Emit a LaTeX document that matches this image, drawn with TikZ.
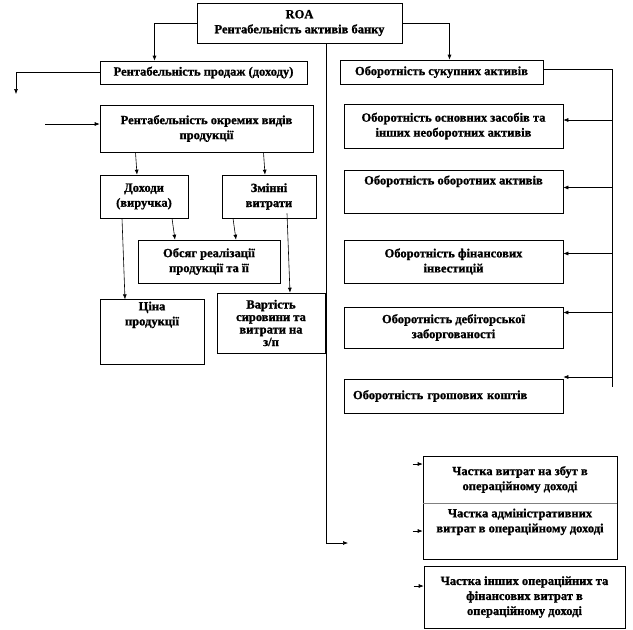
\documentclass[tikz,border=0pt]{standalone}
\usepackage{fontspec}
\setmainfont{Liberation Serif}[BoldFeatures={FakeBold=1.2}]
\usepackage{tikz}
\usetikzlibrary{arrows.meta,positioning,calc}

\begin{document}
\begin{tikzpicture}[
  x=1pt,y=-1pt,
  >={Latex[length=5pt,width=4pt]},
  font=\fontsize{12.5}{15}\selectfont\bfseries,
  box/.style={draw, line width=0.6pt, align=center, inner xsep=3pt, inner ysep=2pt},
  arrow/.style={->, line width=0.6pt},
  line/.style={line width=0.6pt}
]
\useasboundingbox (0,0) rectangle (633,630);

% Top level.
\node[box, minimum width=205pt, minimum height=40pt] (roa) at (299.5,23) {ROA\\Рентабельність активів банку};
\node[box, minimum width=207pt, minimum height=23pt] (sales) at (203.5,72.5) {Рентабельність продаж (доходу)};
\node[box, minimum width=203pt, minimum height=24pt] (turnover) at (441.5,72) {Оборотність сукупних активів};
\draw[arrow] (roa.west) -| ([xshift=-49pt]sales.north);
\draw[arrow] (roa.east) -| ([xshift=8pt]turnover.north);

% Sales branch.
\coordinate (salesout) at (16,94);
\coordinate (detin) at (45,124);
\draw[arrow] (sales.west) -| (salesout);
\node[box, minimum width=213pt, minimum height=47pt] (detail) at (206.5,128.5) {Рентабельність окремих видів\\продукції};
\draw[arrow] (detin) -- ([yshift=4.5pt]detail.west);
\node[box, minimum width=88pt, minimum height=43pt] (income) at (144,196.5) {Доходи\\(виручка)};
\node[box, minimum width=94pt, minimum height=43pt] (varcost) at (269,196.5) {Змінні\\витрати};
\draw[arrow] ([xshift=-71pt]detail.south) -- ([xshift=-7pt]income.north);
\draw[arrow] ([xshift=57pt]detail.south) -- ([xshift=-4pt]varcost.north);
\node[box, minimum width=142pt, minimum height=43pt] (volume) at (209,261.5) {Обсяг реалізації\\продукції та її};
\draw[arrow] ([xshift=28pt]income.south) -- ([xshift=-34pt]volume.north);
\draw[arrow] ([xshift=-36pt]varcost.south) -- ([xshift=27pt]volume.north);
\node[box, minimum width=104pt, minimum height=60pt, text depth=37pt] (price) at (152,332) {Ціна\\продукції};
\node[box, minimum width=108pt, minimum height=60pt, font=\fontsize{12.5}{12.5}\selectfont\bfseries] (cost) at (271,323) {Вартість\\сировини та\\витрати на\\з/п};
\draw[arrow] ([xshift=-22pt]income.south) -- ([xshift=-27pt]price.north);
\draw[arrow] ([xshift=18pt,yshift=5pt]varcost.south) -- ([xshift=19pt]cost.north);

% Turnover branch.
\node[box, minimum width=219pt, minimum height=44pt] (fixed) at (453.5,126) {Оборотність основних засобів та\\інших необоротних активів};
\node[box, minimum width=219pt, minimum height=43pt, text depth=23pt] (current) at (453.5,191.5) {Оборотність оборотних активів};
\node[box, minimum width=219pt, minimum height=43pt] (invest) at (453.5,261.5) {Оборотність фінансових\\інвестицій};
\node[box, minimum width=219pt, minimum height=41pt] (debt) at (453.5,327.5) {Оборотність дебіторської\\заборгованості};
\node[box, minimum width=219pt, minimum height=34pt, text width=201pt, align=left, inner xsep=9pt] (cash) at (453.5,396) {Оборотність грошових коштів};
\coordinate (bustop) at (612,69);
\coordinate (busend) at (612,387);
\draw[line] (turnover.east |- bustop) -- (bustop) -- (busend);
\draw[arrow] (bustop |- fixed.east) ++(0,-6) -- ([yshift=6pt]fixed.east);
\draw[arrow] (bustop |- current.east) ++(0,-4) -- ([yshift=4pt]current.east);
\draw[arrow] (bustop |- invest.east) ++(0,-8) -- ([yshift=8pt]invest.east);
\draw[arrow] (bustop |- debt.east) ++(0,-15) -- ([yshift=15pt]debt.east);
\draw[arrow] (bustop |- cash.east) ++(0,-19) -- ([yshift=19pt]cash.east);

% Expense shares.
\coordinate (midout) at (348,543);
\draw[arrow] ([xshift=27pt]roa.south) |- (midout);
\node[box, minimum width=194pt, minimum height=47pt] (sell) at (520,479.5) {Частка витрат на збут в\\операційному доході};
\node[box, minimum width=194pt, minimum height=56pt, text depth=21pt] (admin) at (520,531) {Частка адміністративних\\витрат в операційному доході};
\node[box, minimum width=201pt, minimum height=62pt] (other) at (524.5,597) {Частка інших операційних та\\фінансових витрат в\\операційному доході};
\draw[gray, line width=1.2pt] (sell.south west) -- (sell.south east);
\draw[arrow] ([xshift=-10pt,yshift=15.5pt]sell.west) -- ([yshift=15.5pt]sell.west);
\draw[arrow] ([xshift=-10pt]admin.west) -- (admin.west);
\draw[arrow] ([xshift=-10pt,yshift=11pt]other.west) -- ([yshift=11pt]other.west);
\end{tikzpicture}
\end{document}
